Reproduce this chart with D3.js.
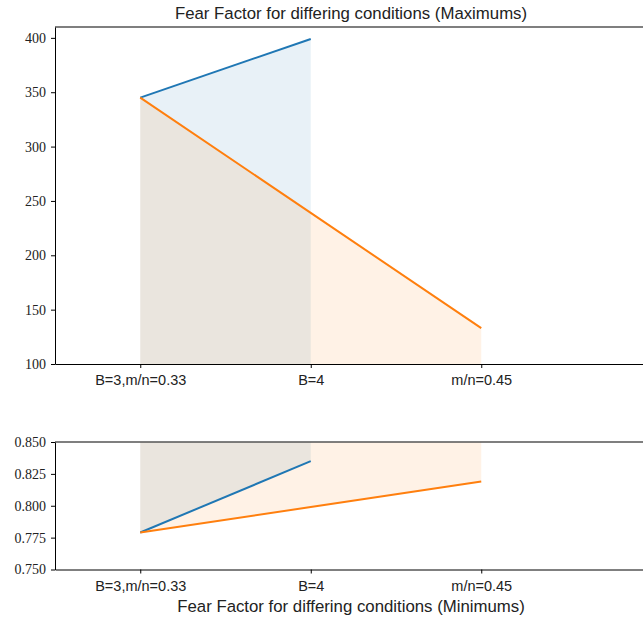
<!DOCTYPE html>
<html>
<head>
<meta charset="utf-8">
<script src="https://cdn.jsdelivr.net/npm/d3@7"></script>
<style>
  body { margin: 0; background: #fff; }
  .axis path, .axis line { stroke: #000; stroke-width: 1; }
  .y.axis text { font-family: "Liberation Serif", serif; font-size: 14px; fill: #222; }
  .x.axis text { font-family: "Liberation Sans", sans-serif; font-size: 14.5px; fill: #222; }
  .title { font-family: "Liberation Sans", sans-serif; font-size: 16.8px; fill: #222; }
</style>
</head>
<body>
<svg width="643" height="621"></svg>
<script>
const categories = ["B=3,m/n=0.33", "B=4", "m/n=0.45"];

const maxBlue = [345, 399];
const maxOrange = [345, 239, 133];
const minBlue = [0.779, 0.835];
const minOrange = [0.779, 0.799, 0.819];

const maxTicks = [100, 150, 200, 250, 300, 350, 400];
const minTicks = [0.75, 0.775, 0.8, 0.825, 0.85];

const blue = "#1f77b4";
const orange = "#ff7f0e";

const svg = d3.select("svg");

const x = d3.scaleLinear().domain([-0.5, 3.5]).range([55, 737]);

const xAxis = d3
  .axisBottom(x)
  .tickValues(d3.range(categories.length))
  .tickFormat((d, i) => categories[i])
  .tickSize(4)
  .tickPadding(7);

const drawPanel = (cfg) => {
  const y = d3.scaleLinear().domain(cfg.domain).range(cfg.range);
  const g = svg.append("g");

  // fills first, lines on top
  cfg.series.forEach((s) => {
    const area = d3
      .area()
      .x((d, i) => x(i))
      .y0(y(cfg.fillTo))
      .y1((d) => y(d));
    g.append("path")
      .datum(s.values)
      .attr("d", area)
      .attr("fill", s.color)
      .attr("fill-opacity", 0.1);
  });

  cfg.series.forEach((s) => {
    const line = d3
      .line()
      .x((d, i) => x(i))
      .y((d) => y(d));
    g.append("path")
      .datum(s.values)
      .attr("d", line)
      .attr("fill", "none")
      .attr("stroke", s.color)
      .attr("stroke-width", 2);
  });

  // top spine
  g.append("line")
    .attr("x1", x(-0.5))
    .attr("x2", 643)
    .attr("y1", y(cfg.domain[1]))
    .attr("y2", y(cfg.domain[1]))
    .attr("stroke", cfg.topColor)
    .attr("stroke-width", cfg.topWidth);

  g.append("g")
    .attr("class", "y axis")
    .attr("transform", "translate(" + x(-0.5) + ",0)")
    .call(
      d3
        .axisLeft(y)
        .tickValues(cfg.ticks)
        .tickFormat(cfg.format)
        .tickSize(4)
        .tickSizeOuter(0)
        .tickPadding(5)
    );

  g.append("g")
    .attr("class", "x axis")
    .attr("transform", "translate(0," + y(cfg.domain[0]) + ")")
    .call(xAxis.tickSizeOuter(0));

  g.selectAll(".domain").attr("stroke-width", 1.1);
};

drawPanel({
  domain: [100, 410],
  range: [364, 27],
  ticks: maxTicks,
  format: d3.format("d"),
  fillTo: 100,
  topColor: "#000",
  topWidth: 1.1,
  series: [
    { values: maxBlue, color: blue },
    { values: maxOrange, color: orange },
  ],
});

drawPanel({
  domain: [0.75, 0.85],
  range: [569.5, 442],
  ticks: minTicks,
  format: d3.format(".3f"),
  fillTo: 0.85,
  topColor: "#555",
  topWidth: 1.6,
  series: [
    { values: minBlue, color: blue },
    { values: minOrange, color: orange },
  ],
});

svg.append("text")
  .attr("class", "title")
  .attr("x", 351)
  .attr("y", 19)
  .attr("text-anchor", "middle")
  .text("Fear Factor for differing conditions (Maximums)");

svg.append("text")
  .attr("class", "title")
  .attr("x", 351)
  .attr("y", 612)
  .attr("text-anchor", "middle")
  .text("Fear Factor for differing conditions (Minimums)");
</script>
</body>
</html>
